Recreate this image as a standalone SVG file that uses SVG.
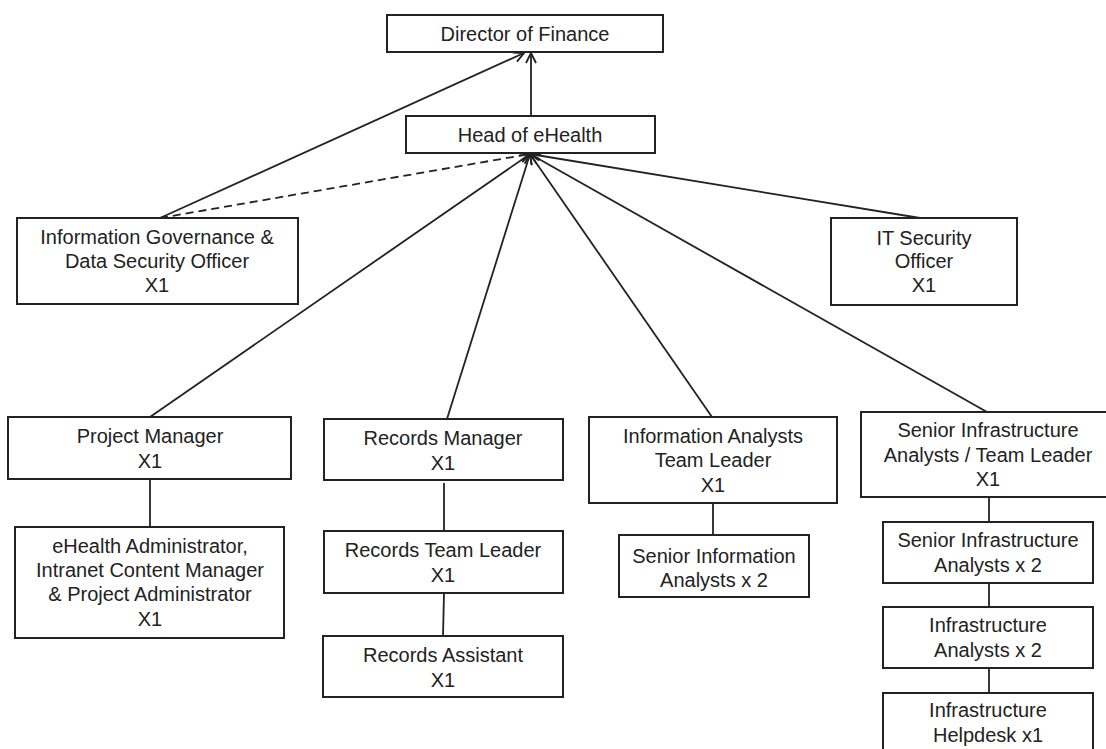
<svg xmlns="http://www.w3.org/2000/svg" width="1106" height="749" viewBox="0 0 1106 749">
<style>
.box{fill:#fff;stroke:#222;stroke-width:2}
.t{font-family:"Liberation Sans",Arial,sans-serif;font-size:20px;fill:#222;text-anchor:middle}
.c{stroke:#222;stroke-width:1.8;fill:none}
.d{stroke-dasharray:8,5}
</style>
<defs>
<marker id="arr" viewBox="0 0 12 12" refX="11" refY="6" markerWidth="12" markerHeight="12" markerUnits="userSpaceOnUse" orient="auto">
<path d="M1,1 L11,6 L1,11" fill="none" stroke="#222" stroke-width="1.8"/>
</marker>
</defs>
<rect width="1106" height="749" fill="#fff"/>
<g id="connectors">
<line class="c" x1="531" y1="116" x2="531" y2="53" marker-end="url(#arr)"/>
<line class="c" x1="160" y1="218" x2="524" y2="53" marker-end="url(#arr)"/>
<line class="c d" x1="160" y1="218" x2="530" y2="154" marker-end="url(#arr)"/>
<line class="c" x1="150" y1="417" x2="530" y2="154" marker-end="url(#arr)"/>
<line class="c" x1="447" y1="419" x2="530" y2="154" marker-end="url(#arr)"/>
<line class="c" x1="712" y1="417" x2="530" y2="154" marker-end="url(#arr)"/>
<line class="c" x1="987" y1="412" x2="530" y2="154" marker-end="url(#arr)"/>
<line class="c" x1="920" y1="218" x2="530" y2="154" marker-end="url(#arr)"/>
<line class="c" x1="150" y1="479" x2="150" y2="527"/>
<line class="c" x1="444" y1="483" x2="444" y2="538"/>
<line class="c" x1="444" y1="593" x2="443" y2="636"/>
<line class="c" x1="713" y1="503" x2="713" y2="535"/>
<line class="c" x1="989" y1="497" x2="989" y2="522"/>
<line class="c" x1="989" y1="583" x2="989" y2="607"/>
<line class="c" x1="989" y1="668" x2="989" y2="693"/>
</g>
<g id="director">
<rect class="box" x="387" y="15" width="276" height="37"/>
<text class="t" x="525" y="41">Director of Finance</text>
</g>
<g id="head">
<rect class="box" x="406" y="116" width="249" height="37"/>
<text class="t" x="530" y="142">Head of eHealth</text>
</g>
<g id="ig">
<rect class="box" x="17" y="218" width="281" height="86"/>
<text class="t" x="157" y="244">Information Governance &amp;</text>
<text class="t" x="157" y="268">Data Security Officer</text>
<text class="t" x="157" y="292">X1</text>
</g>
<g id="itsec">
<rect class="box" x="831" y="218" width="186" height="87"/>
<text class="t" x="924" y="245">IT Security</text>
<text class="t" x="924" y="268">Officer</text>
<text class="t" x="924" y="292">X1</text>
</g>
<g id="pm">
<rect class="box" x="8" y="417" width="283" height="62"/>
<text class="t" x="150" y="443">Project Manager</text>
<text class="t" x="150" y="468">X1</text>
</g>
<g id="eha">
<rect class="box" x="15" y="527" width="269" height="111"/>
<text class="t" x="150" y="553">eHealth Administrator,</text>
<text class="t" x="150" y="577">Intranet Content Manager</text>
<text class="t" x="150" y="601">&amp; Project Administrator</text>
<text class="t" x="150" y="626">X1</text>
</g>
<g id="rm">
<rect class="box" x="324" y="419" width="239" height="61"/>
<text class="t" x="443" y="445">Records Manager</text>
<text class="t" x="443" y="470">X1</text>
</g>
<g id="rtl">
<rect class="box" x="324" y="531" width="239" height="62"/>
<text class="t" x="443" y="557">Records Team Leader</text>
<text class="t" x="443" y="582">X1</text>
</g>
<g id="ra">
<rect class="box" x="323" y="636" width="240" height="61"/>
<text class="t" x="443" y="662">Records Assistant</text>
<text class="t" x="443" y="687">X1</text>
</g>
<g id="iatl">
<rect class="box" x="589" y="417" width="248" height="86"/>
<text class="t" x="713" y="443">Information Analysts</text>
<text class="t" x="713" y="467">Team Leader</text>
<text class="t" x="713" y="492">X1</text>
</g>
<g id="sia">
<rect class="box" x="619" y="535" width="190" height="62"/>
<text class="t" x="714" y="563">Senior Information</text>
<text class="t" x="714" y="587">Analysts x 2</text>
</g>
<g id="siatl">
<rect class="box" x="861" y="412" width="254" height="85"/>
<text class="t" x="988" y="437">Senior Infrastructure</text>
<text class="t" x="988" y="462">Analysts / Team Leader</text>
<text class="t" x="988" y="486">X1</text>
</g>
<g id="sia2">
<rect class="box" x="883" y="522" width="210" height="61"/>
<text class="t" x="988" y="547">Senior Infrastructure</text>
<text class="t" x="988" y="572">Analysts x 2</text>
</g>
<g id="ia2">
<rect class="box" x="883" y="607" width="210" height="61"/>
<text class="t" x="988" y="632">Infrastructure</text>
<text class="t" x="988" y="657">Analysts x 2</text>
</g>
<g id="ih">
<rect class="box" x="883" y="693" width="210" height="70"/>
<text class="t" x="988" y="717">Infrastructure</text>
<text class="t" x="988" y="742">Helpdesk x1</text>
</g>
</svg>
